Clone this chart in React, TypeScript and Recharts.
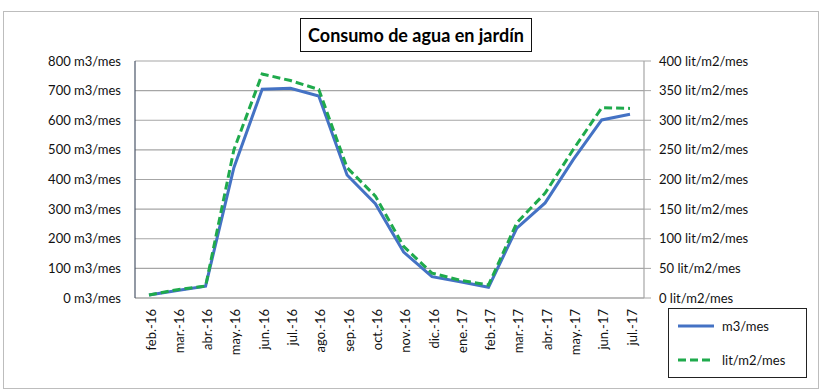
import React from 'react';
import { LineChart, Line, XAxis, YAxis, CartesianGrid } from 'recharts';

const months = ['feb.-16','mar.-16','abr.-16','may.-16','jun.-16','jul.-16','ago.-16','sep.-16','oct.-16','nov.-16','dic.-16','ene.-17','feb.-17','mar.-17','abr.-17','may.-17','jun.-17','jul.-17'];
const m3mes = [10, 25, 40, 440, 705, 708, 682, 415, 318, 155, 72, 55, 36, 236, 321, 468, 601, 620];
const litm2mes = [5, 14, 20, 250, 378, 367, 352, 220, 172, 87, 42, 30, 22, 127, 177, 251, 321, 320];
const leftTicks = [0, 100, 200, 300, 400, 500, 600, 700, 800];
const rightTicks = [0, 50, 100, 150, 200, 250, 300, 350, 400];

const data = months.map((mes, i) => ({ mes, m3: m3mes[i], lit: litm2mes[i] }));

const FONT = 'Lato, "Open Sans", sans-serif';
const BLUE = '#4472C4';
const GREEN = '#1FAA4C';

const XTick = (props: any) => {
  const { x, y, payload } = props;
  return (
    <g transform={`translate(${x + 2},${y + 3})`}>
      <text transform="rotate(-90)" textAnchor="end" dy="0.35em" fontSize={13} fontFamily={FONT} fill="#111">
        {payload.value}
      </text>
    </g>
  );
};

const LegendBox = () => (
  <div style={{ position: 'absolute', left: 668, top: 308, width: 137, height: 68, border: '1px solid #222', background: '#fff', fontFamily: FONT, fontSize: 13, color: '#111', zIndex: 2 }}>
    <div style={{ display: 'flex', alignItems: 'center', height: 34, paddingLeft: 9 }}>
      <svg width={38} height={6} style={{ display: 'block' }}>
        <line x1={0} y1={3} x2={36} y2={3} stroke={BLUE} strokeWidth={3} />
      </svg>
      <span style={{ marginLeft: 6 }}>m3/mes</span>
    </div>
    <div style={{ display: 'flex', alignItems: 'center', height: 34, paddingLeft: 9 }}>
      <svg width={38} height={6} style={{ display: 'block' }}>
        <line x1={0} y1={3} x2={36} y2={3} stroke={GREEN} strokeWidth={3} strokeDasharray="8 4" />
      </svg>
      <span style={{ marginLeft: 6 }}>lit/m2/mes</span>
    </div>
  </div>
);

export default function App() {
  return (
    <div style={{ position: 'absolute', left: 0, top: 0, width: 826, height: 391, background: '#fff' }}>
      <div style={{ position: 'absolute', left: 3, top: 11, width: 814, height: 376, border: '1px solid #bdbdbd' }} />
      <div style={{ position: 'absolute', left: 300, top: 18, width: 230, height: 32, border: '1px solid #111', display: 'flex', alignItems: 'center', justifyContent: 'center', fontFamily: FONT, fontWeight: 'bold', fontSize: 18, color: '#000', background: '#fff', zIndex: 2 }}>
        Consumo de agua en jardín
      </div>
      <div style={{ position: 'absolute', left: 0, top: 0 }}>
        <LineChart width={826} height={391} data={data} margin={{ top: 61, right: 10, bottom: 33, left: 0 }}>
          <CartesianGrid vertical={false} stroke="#a6a6a6" strokeWidth={1.2} yAxisId="left" />
          <XAxis dataKey="mes" interval={0} height={60} tick={<XTick />} tickLine={false} padding={{ left: 14, right: 14 }} axisLine={{ stroke: '#a6a6a6', strokeWidth: 1.2 }} />
          <YAxis yAxisId="left" orientation="left" width={135} domain={[0, 800]} ticks={leftTicks} interval={0}
            tickFormatter={(v: number) => `${v} m3/mes`} tickLine={false} tickSize={6} tickMargin={8}
            axisLine={{ stroke: '#4a5568', strokeWidth: 1.2 }}
            tick={{ fontSize: 13, fontFamily: FONT, fill: '#111' }} />
          <YAxis yAxisId="right" orientation="right" width={172} domain={[0, 400]} ticks={rightTicks} interval={0}
            tickFormatter={(v: number) => `${v} lit/m2/mes`} tickSize={7} tickMargin={8}
            tickLine={{ stroke: '#a6a6a6' }} axisLine={{ stroke: '#a6a6a6', strokeWidth: 1.2 }}
            tick={{ fontSize: 13, fontFamily: FONT, fill: '#111', textAnchor: 'start' }} />
          <Line yAxisId="left" dataKey="m3" name="m3/mes" type="linear" stroke={BLUE} strokeWidth={3} dot={false} isAnimationActive={false} />
          <Line yAxisId="right" dataKey="lit" name="lit/m2/mes" type="linear" stroke={GREEN} strokeWidth={3} strokeDasharray="8 4" dot={false} isAnimationActive={false} />
        </LineChart>
      </div>
      <LegendBox />
    </div>
  );
}
